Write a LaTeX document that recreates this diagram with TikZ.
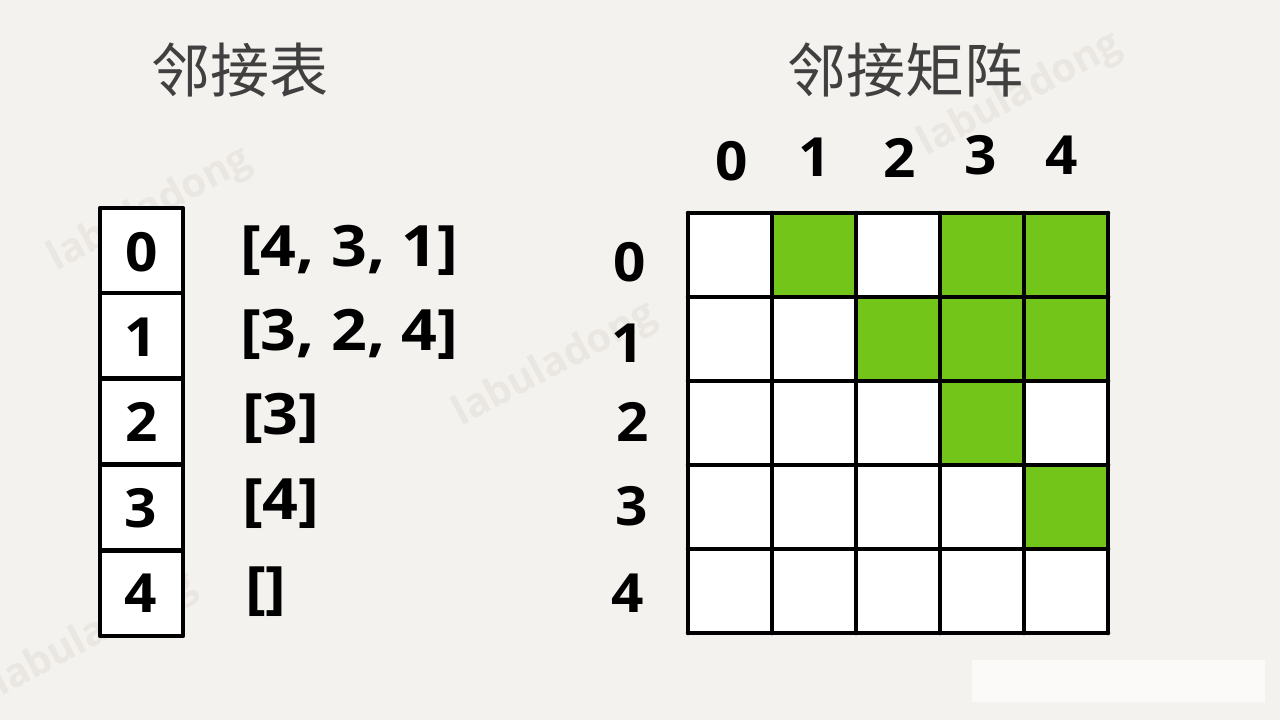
\documentclass[tikz,border=0pt]{standalone}
\usepackage{fontspec}
\setmainfont{Open Sans}
\newfontfamily\cjk{Noto Sans CJK SC}
\newfontfamily\wm{Open Sans}
\definecolor{bg}{HTML}{F4F2EE}
\definecolor{grn}{HTML}{74C51A}
\definecolor{wmc}{HTML}{EAE7E2}
\begin{document}
\begin{tikzpicture}[x=1pt,y=-1pt,
  num/.style={font=\fontsize{54}{54}\selectfont\bfseries, text=black, inner sep=0pt, xscale=1.05},
  lst/.style={font=\fontsize{57}{57}\selectfont\bfseries, text=black, inner sep=0pt, xscale=1.1, anchor=west},
  title/.style={font=\cjk\fontsize{59}{59}\selectfont, text=black!75, inner sep=0pt},
  wmark/.style={font=\wm\fontsize{40}{40}\selectfont\bfseries, text=wmc, rotate=28, inner sep=0pt},
  cellbox/.style={draw=black, line width=4.5pt, line join=round}]
\fill[bg] (0,0) rectangle (1280,720);
\useasboundingbox (0,0) rectangle (1280,720);
\fill[white!60!bg] (972,660) rectangle (1265,702);
% watermarks
\node[wmark] (w1) at (150,210) {labuladong};
\node[wmark] (w2) at (555,365) {labuladong};
\node[wmark] (w3) at (1020,95) {labuladong};
\node[wmark] (w4) at (950,520) {labuladong};
\node[wmark] (w5) at (95,635) {labuladong};
% titles
\node[title] (t1) at (240,70) {邻接表};
\node[title] (t2) at (905,70) {邻接矩阵};
% left list
\foreach \i/\y in {0/208,1/293,2/379,3/465,4/551}{
  \draw[cellbox, fill=white] (100,\y) rectangle (183,\y+85);
}
\node[num] (l0) at (142,252) {0};
\node[num] (l1) at (141,337) {1};
\node[num] (l2) at (142,422) {2};
\node[num] (l3) at (141,508) {3};
\node[num] (l4) at (141,593) {4};
\node[lst] (a0) at (240,250) {[4, 3, 1]};
\node[lst] (a1) at (240,334) {[3, 2, 4]};
\node[lst] (a2) at (242,418) {[3]};
\node[lst] (a3) at (242,504) {[4]};
\node[lst] (a4) at (245,592) {[]};
% matrix cells
\foreach \r in {0,...,4}{
  \foreach \c in {0,...,4}{
    \fill[white] (688+84*\c,213+84*\r) rectangle (772+84*\c,297+84*\r);
  }
}
\foreach \r/\c in {0/1,0/3,0/4,1/2,1/3,1/4,2/3,3/4}{
  \fill[grn] (688+84*\c,213+84*\r) rectangle (772+84*\c,297+84*\r);
}
\foreach \k in {0,...,5}{
  \draw[line width=4.5pt, line cap=round] (688+84*\k,213) -- (688+84*\k,633);
  \draw[line width=4.5pt, line cap=round] (688,213+84*\k) -- (1108,213+84*\k);
}
% column labels
\node[num] (c0) at (732,161) {0};
\node[num] (c1) at (815,157) {1};
\node[num] (c2) at (900,158) {2};
\node[num] (c3) at (981,155) {3};
\node[num] (c4) at (1062,155) {4};
% row labels
\node[num] (r0) at (630,262) {0};
\node[num] (r1) at (628,343) {1};
\node[num] (r2) at (633,422) {2};
\node[num] (r3) at (632,506) {3};
\node[num] (r4) at (628,593) {4};
\end{tikzpicture}
\end{document}
